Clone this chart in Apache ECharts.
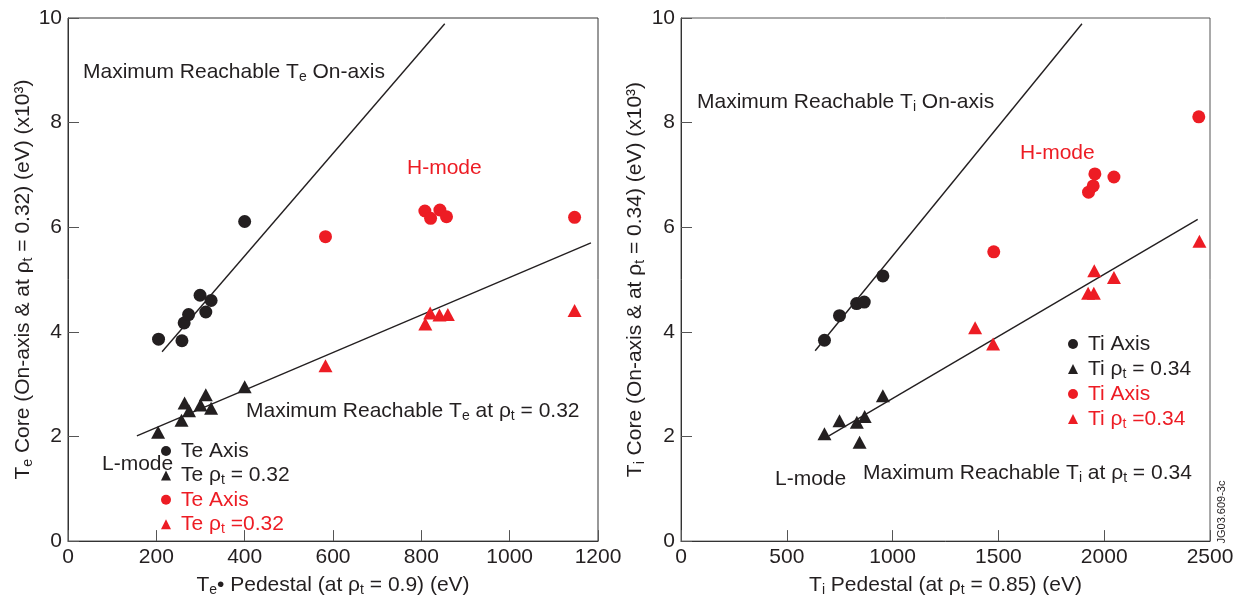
<!DOCTYPE html>
<html><head><meta charset="utf-8">
<script src="https://cdn.jsdelivr.net/npm/echarts@6/dist/echarts.min.js"></script>
<style>html,body{margin:0;padding:0;background:#fff}#c{width:1244px;height:602px}</style>
</head><body><div id="c"></div>
<script>
// ---------- Left panel (electron temperature) ----------
const teAxisL = [[205,3.86],[258,3.83],[263,4.17],[273,4.33],[299,4.70],[312,4.38],[324,4.60],[400,6.11]];
const teRhoL  = [[204,2.08],[257,2.31],[264,2.64],[274,2.49],[300,2.60],[312,2.80],[324,2.54],[400,2.95]];
const teAxisH = [[583,5.82],[808,6.31],[821,6.17],[842,6.33],[857,6.20],[1147,6.19]];
const teRhoH  = [[583,3.35],[809,4.15],[820,4.36],[841,4.32],[860,4.33],[1147,4.41]];
const teMaxAxisLine = [[213,3.62],[853,9.89]];
const teMaxRhoLine  = [[156,2.01],[1184,5.70]];
const teXTicks = [0,200,400,600,800,1000,1200];
// ---------- Right panel (ion temperature) ----------
const tiAxisL = [[678,3.84],[749,4.31],[830,4.54],[866,4.57],[954,5.07]];
const tiRhoL  = [[678,2.05],[749,2.30],[831,2.27],[844,1.89],[868,2.38],[954,2.78]];
const tiAxisH = [[1478,5.53],[1926,6.67],[1948,6.79],[1956,7.02],[2046,6.96],[2447,8.11]];
const tiRhoH  = [[1390,4.08],[1475,3.77],[1924,4.74],[1951,4.74],[1953,5.17],[2046,5.04],[2450,5.73]];
const tiMaxAxisLine = [[634,3.64],[1895,9.89]];
const tiMaxRhoLine  = [[699,2.01],[2442,6.15]];
const tiXTicks = [0,500,1000,1500,2000,2500];
const yTicks = [0,2,4,6,8,10];

const FONT = '"Liberation Sans", Arial, Helvetica, sans-serif';
const INK = '#231F20';
const RED = '#ED1C24';
const FS = 21, LH = 24;
const richE = { s: { fontSize: 14, lineHeight: 12, verticalAlign: 'bottom', fontFamily: FONT } };
const richZ = { s: { fontSize: 14, lineHeight: 12, verticalAlign: 'bottom', fontFamily: FONT } };

function axisBase(gi, ticks, name, gap) {
  return {
    gridIndex: gi, type: 'value',
    min: ticks[0], max: ticks[ticks.length-1], interval: ticks[1]-ticks[0],
    axisLine: { show: true, onZero: false, lineStyle: { color: '#333', width: 1 } },
    axisTick: { show: true, inside: true, length: 11, lineStyle: { color: '#555', width: 1 } },
    splitLine: { show: false },
    axisLabel: { fontSize: FS, fontFamily: FONT, color: INK, margin: 6, formatter: v => String(v) },
    name: name, nameLocation: 'middle', nameGap: gap,
    nameTextStyle: { fontSize: FS, fontFamily: FONT, color: INK, lineHeight: LH, rich: richE }
  };
}

const labels = {
  'teAxisL': 'Te Axis', 'teRhoL': 'Te ρ{s|t} = 0.32', 'teAxisH': 'Te Axis', 'teRhoH': 'Te ρ{s|t} =0.32',
  'tiAxisL': 'Ti Axis', 'tiRhoL': 'Ti ρ{s|t} = 0.34', 'tiAxisH': 'Ti Axis', 'tiRhoH': 'Ti ρ{s|t} =0.34'
};

function sc(name, gi, data, sym, color) {
  return { name, type: 'scatter', xAxisIndex: gi, yAxisIndex: gi, data,
    symbol: sym, symbolSize: sym === 'circle' ? 13 : [14, 13],
    itemStyle: { color: color, opacity: 1 }, z: 5 };
}
function ln(gi, data) {
  return { type: 'line', xAxisIndex: gi, yAxisIndex: gi, data, showSymbol: false, symbol: 'none',
    lineStyle: { color: INK, width: 1.4 }, silent: true, z: 3 };
}
function legendFor(names, left, top, gap) {
  return {
    orient: 'vertical', left, top, padding: 0, itemGap: gap, itemWidth: 10, itemHeight: 10,
    selectedMode: false,
    data: names.map((n, i) => ({ name: n, icon: i % 2 === 0 ? 'circle' : 'triangle',
      itemStyle: { opacity: 1 },
      textStyle: { color: i < 2 ? INK : RED } })),
    formatter: n => labels[n],
    textStyle: { fontSize: FS, fontFamily: FONT, lineHeight: LH, padding: [0,0,0,5], rich: richE }
  };
}
function txt(x, y, str, color) {
  return { type: 'text', x, y, silent: true,
    style: { text: str, fill: color, fontSize: FS, fontFamily: FONT, lineHeight: LH,
      verticalAlign: 'middle', align: 'left', rich: richZ } };
}

const chart = echarts.init(document.getElementById('c'), null, { renderer: 'canvas' });
chart.setOption({
  animation: false,
  backgroundColor: '#fff',
  grid: [
    { left: 68, top: 18, width: 530, height: 529, show: true, borderColor: '#333', borderWidth: 1 },
    { left: 681, top: 18, width: 529, height: 529, show: true, borderColor: '#555', borderWidth: 1 }
  ],
  xAxis: [
    axisBase(0, teXTicks, 'T{s|e}• Pedestal (at ρ{s|t} = 0.9) (eV)', 24),
    axisBase(1, tiXTicks, 'T{s|i} Pedestal (at ρ{s|t} = 0.85) (eV)', 24)
  ],
  yAxis: [
    axisBase(0, yTicks, 'T{s|e} Core (On-axis & at ρ{s|t} = 0.32) (eV) (x10³)', 26),
    axisBase(1, yTicks, 'T{s|i} Core (On-axis & at ρ{s|t} = 0.34) (eV) (x10³)', 34)
  ],
  legend: [
    legendFor(['teAxisL','teRhoL','teAxisH','teRhoH'], 161, 439, 0.4),
    legendFor(['tiAxisL','tiRhoL','tiAxisH','tiRhoH'], 1068, 332, 1)
  ],
  series: [
    ln(0, teMaxAxisLine), ln(0, teMaxRhoLine), ln(1, tiMaxAxisLine), ln(1, tiMaxRhoLine),
    sc('teAxisL', 0, teAxisL, 'circle', INK), sc('teRhoL', 0, teRhoL, 'triangle', INK),
    sc('teAxisH', 0, teAxisH, 'circle', RED), sc('teRhoH', 0, teRhoH, 'triangle', RED),
    sc('tiAxisL', 1, tiAxisL, 'circle', INK), sc('tiRhoL', 1, tiRhoL, 'triangle', INK),
    sc('tiAxisH', 1, tiAxisH, 'circle', RED), sc('tiRhoH', 1, tiRhoH, 'triangle', RED)
  ],
  graphic: [
    txt(83, 72, 'Maximum Reachable T{s|e} On-axis', INK),
    txt(407, 168, 'H-mode', RED),
    txt(246, 411, 'Maximum Reachable T{s|e} at ρ{s|t} = 0.32', INK),
    txt(102, 464, 'L-mode', INK),
    txt(697, 102, 'Maximum Reachable T{s|i} On-axis', INK),
    txt(1020, 153, 'H-mode', RED),
    txt(775, 479, 'L-mode', INK),
    txt(863, 473, 'Maximum Reachable T{s|i} at ρ{s|t} = 0.34', INK),
    { type: 'text', x: 1222, y: 512, rotation: Math.PI / 2, silent: true,
      style: { text: 'JG03.609-3c', fill: INK, fontSize: 11, fontFamily: FONT, align: 'center', verticalAlign: 'middle' } }
  ]
});
</script>
</body></html>
